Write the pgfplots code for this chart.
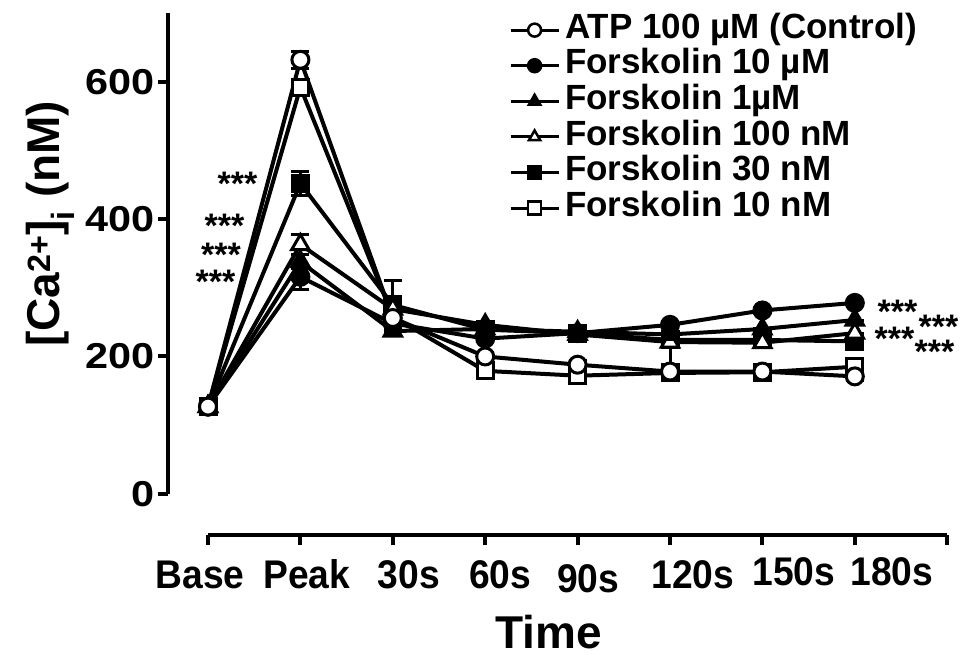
\documentclass[border=0pt]{standalone}
\usepackage{fontspec}
\setmainfont{Liberation Sans}
\usepackage{graphicx}
\usepackage{pgfplots}
\usepackage{pgfplotstable}
\pgfplotsset{compat=1.18}
\usetikzlibrary{calc}

\pgfplotstableread{
x y ep em
0 127 5 5
1 632 12 12
2 256 8 8
3 200 6 6
4 188 6 6
5 178 6 6
6 178 6 6
7 171 6 6
}\atp
\pgfplotstableread{
x y ep em
0 127 0 0
1 316 18 18
2 248 0 0
3 226 0 0
4 234 0 0
5 246 0 0
6 267 0 0
7 278 0 0
}\fA
\pgfplotstableread{
x y ep em
0 127 0 0
1 338 10 10
2 237 0 0
3 240 0 0
4 236 0 0
5 232 0 0
6 240 0 0
7 253 0 0
}\fB
\pgfplotstableread{
x y ep em
0 127 0 0
1 363 14 14
2 269 0 0
3 246 0 0
4 232 0 0
5 221 0 40
6 220 0 0
7 234 0 0
}\fC
\pgfplotstableread{
x y ep em
0 127 0 0
1 452 18 18
2 275 36 36
3 239 0 0
4 234 0 0
5 224 0 0
6 224 0 0
7 222 0 0
}\fD
\pgfplotstableread{
x y ep em
0 127 0 0
1 592 10 10
2 258 0 0
3 179 0 0
4 172 0 0
5 176 0 0
6 177 0 0
7 185 0 0
}\fE

\pgfplotsset{
  ser/.style={black, line width=4pt,
    mark options={line width=3pt, #1},
    error bars/.cd, y dir=both, y explicit,
    error bar style={line width=3pt, black},
    error mark options={rotate=90, mark size=9pt, line width=3pt, black},
    /pgfplots/.cd},
  lg/.style={black, line width=3pt, mark size=6.5pt, mark options={line width=2.5pt, #1}},
}
\newcommand{\tl}[3][0pt]{\raisebox{#1}{\makebox[0pt]{\hspace*{#2}\scalebox{0.93}[1]{#3}}}}

\begin{document}
\begin{tikzpicture}
\useasboundingbox (-208pt,-119pt) rectangle (766pt,535pt);
\begin{axis}[name=B, at={(0pt,0pt)}, anchor=south west,
  scale only axis, width=739.2pt, height=521.9pt,
  xmin=0, xmax=8, ymin=-60, ymax=700,
  axis x line*=bottom, axis y line=none, clip=false,
  axis line style={line width=4pt, black},
  xtick={0,1,...,8},
  xticklabels={\tl{-16pt}{Base},\tl{13pt}{Peak},\tl{32pt}{30s},\tl{30pt}{60s},\tl[-4pt]{21pt}{90s},\tl{46pt}{120s},\tl[3pt]{63pt}{150s},\tl[3pt]{74pt}{180s},{}},
  major tick length=10pt, tick align=outside,
  tick style={line width=4pt, black},
  xticklabel style={font=\fontsize{40}{48}\selectfont\bfseries, anchor=base, yshift=-43pt, inner sep=0pt},
  xlabel={Time},
  xlabel style={at={(axis cs:3.69,-60)}, anchor=base, yshift=-113pt, font=\fontsize{46}{54}\selectfont\bfseries, inner sep=0pt},
  legend cell align=left,
  legend style={at={(0.403,1.0057)}, anchor=north west, draw=none, fill=none,
    font=\fontsize{35}{41}\selectfont\bfseries, column sep=5pt,
    nodes={inner sep=0pt, text height=26pt, text depth=9.6pt}, row sep=0pt},
  legend image code/.code={\draw[mark repeat=2,mark phase=2,#1] plot coordinates {(0pt,0pt) (24pt,0pt) (48pt,0pt)};},
]
\addlegendimage{lg={fill=white}, mark=*}
\addlegendentry{ATP 100 µM (Control)}
\addlegendimage{lg={fill=black}, mark=*}
\addlegendentry{Forskolin 10 µM}
\addlegendimage{lg={fill=black}, mark=triangle*}
\addlegendentry{Forskolin 1µM}
\addlegendimage{lg={fill=white}, mark=triangle*}
\addlegendentry{Forskolin 100 nM}
\addlegendimage{lg={fill=black}, mark=square*}
\addlegendentry{Forskolin 30 nM}
\addlegendimage{lg={fill=white}, mark=square*}
\addlegendentry{Forskolin 10 nM}

\addplot[mark=square*, mark size=8pt, forget plot, ser={fill=white}] table[x=x,y=y,y error plus=ep,y error minus=em] {\fE};
\addplot[mark=square*, mark size=8pt, forget plot, ser={fill=black}] table[x=x,y=y,y error plus=ep,y error minus=em] {\fD};
\addplot[mark=triangle*, mark size=10pt, forget plot, ser={fill=white}] table[x=x,y=y,y error plus=ep,y error minus=em] {\fC};
\addplot[mark=triangle*, mark size=10pt, forget plot, ser={fill=black}] table[x=x,y=y,y error plus=ep,y error minus=em] {\fB};
\addplot[mark=*, mark size=8.5pt, forget plot, ser={fill=black}] table[x=x,y=y,y error plus=ep,y error minus=em] {\fA};
\addplot[mark=*, mark size=8.5pt, forget plot, ser={fill=white}] table[x=x,y=y,y error plus=ep,y error minus=em] {\atp};

\begin{scope}[every node/.style={font=\fontsize{34}{40}\selectfont\bfseries, anchor=base, inner sep=0pt}]
\node at (axis cs:0.319,434) {***};
\node at (axis cs:0.179,372.8) {***};
\node at (axis cs:0.141,330.6) {***};
\node at (axis cs:0.081,291.2) {***};
\node at (axis cs:7.462,247.6) {***};
\node at (axis cs:7.906,225.7) {***};
\node at (axis cs:7.430,208.2) {***};
\node at (axis cs:7.863,189.3) {***};
\end{scope}
\end{axis}

\begin{axis}[at={($(B.south west)+(-40pt,41.2pt)$)}, anchor=south west,
  scale only axis, width=10pt, height=480.7pt,
  xmin=0, xmax=1, ymin=0, ymax=700,
  axis y line*=left, axis x line=none,
  axis line style={line width=4pt, black},
  ytick={0,200,400,600},
  tick align=outside, major tick length=10pt,
  tick style={line width=4pt, black},
  /pgf/number format/assume math mode=true,
  yticklabel style={font=\fontsize{36}{42}\selectfont\bfseries},
  yticklabel={\scalebox{1.15}[1]{\pgfmathprintnumber{\tick}}},
  ylabel={[Ca\textsuperscript{2+}]\textsubscript{i} (nM)},
  every axis y label/.style={at={(rel axis cs:0,0.5616)}, xshift=-118pt, rotate=90, anchor=center,
    font=\fontsize{46}{54}\selectfont\bfseries, inner sep=0pt},
]
\end{axis}
\end{tikzpicture}
\end{document}
